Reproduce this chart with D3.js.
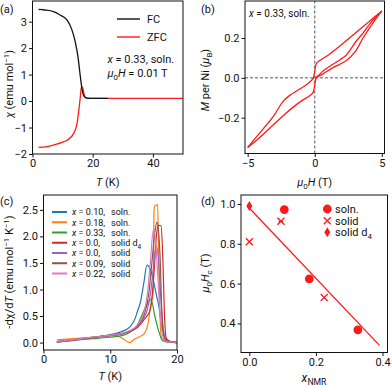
<!DOCTYPE html>
<html><head><meta charset="utf-8">
<script src="https://cdn.jsdelivr.net/npm/d3@7"></script>
<style>
html,body{margin:0;padding:0;background:#fff;}
svg{display:block;font-family:Roboto,"DejaVu Sans",sans-serif;}
</style></head>
<body><svg id="c" width="392" height="385"></svg>
<script>
// ---------- DATA ----------
// (a) susceptibility
const fcT   = [2, 4, 7, 9, 11.5, 13.1, 14.2, 15.1, 15.9, 16.5, 17.2, 18.1, 20, 25];
const fcChi = [3.46, 3.44, 3.38, 3.26, 3.06, 2.69, 2.24, 1.68, 0.92, 0.42, 0.17, 0.11, 0.1, 0.1];
const zfcT   = [2, 5, 8, 10, 11.5, 13.7, 14.8, 15.4, 15.9, 16.2, 16.6, 17.2, 17.8, 20, 30, 50];
const zfcChi = [-1.75, -1.72, -1.63, -1.55, -1.48, -1.22, -0.84, -0.34, 0.17, 0.49, 0.53, 0.23, 0.12, 0.1, 0.1, 0.1];
const aXTicks = [0, 20, 40];
const aYTicks = [-2, -1, 0, 1, 2, 3];

// (b) hysteresis loop
const virginH = [0, 0.1, 0.3, 0.62, 1.2, 1.86, 2.36, 3.0, 3.6, 4.33, 5.0];
const virginM = [0, 0.003, 0.008, 0.02, 0.045, 0.068, 0.087, 0.13, 0.2, 0.275, 0.336];
const downH = [5.0, 4.1, 2.36, 1.12, 0.37, 0.15, 0.07, 0.0, -0.05, -0.13, -0.3, -0.62, -1.1, -1.86, -2.36, -3.1, -4.33, -5.0];
const downM = [0.336, 0.286, 0.187, 0.12, 0.087, 0.074, 0.06, 0.035, 0.015, -0.005, -0.016, -0.035, -0.055, -0.088, -0.118, -0.195, -0.295, -0.35];
const upH = [-5.0, -4.1, -2.36, -1.12, -0.37, -0.15, -0.07, 0.0, 0.05, 0.13, 0.3, 0.62, 1.1, 1.86, 2.36, 3.1, 3.6, 4.33, 5.0];
const upM = [-0.35, -0.3, -0.19, -0.122, -0.09, -0.077, -0.062, -0.035, -0.015, 0.003, 0.013, 0.035, 0.057, 0.09, 0.115, 0.185, 0.225, 0.29, 0.336];
const bXTicks = [-5, 0, 5];
const bYTicks = [-0.2, 0.0, 0.2];

// (c) -dchi/dT
const cNames = ["0.10, soln.", "0.18, soln.", "0.33, soln.", "0.0, solid d4", "0.0, solid", "0.09, solid", "0.22, solid"];
const cColors = ["#1f77b4", "#ff7f0e", "#2ca02c", "#d62728", "#9467bd", "#8c564b", "#e377c2"];
const cT0 = [2, 4, 6, 8, 10, 11, 12, 12.9, 13.75, 14.1, 14.5, 15, 15.5, 16, 16.5, 17, 17.25, 17.75, 18.25, 19, 20];
const cV0 = [0.02, 0.05, 0.08, 0.11, 0.15, 0.18, 0.22, 0.29, 0.46, 0.6, 0.75, 1.1, 1.46, 1.38, 1.15, 0.85, 0.71, 0.28, 0.09, 0.02, 0.01];
const cT1 = [2, 4, 6, 8, 10, 11, 11.8, 12.9, 13.6, 14.4, 15.1, 15.75, 16.0, 16.45, 16.55, 16.65, 17.1, 17.25, 17.45, 17.7, 18.5, 20];
const cV1 = [0.05, 0.07, 0.09, 0.11, 0.13, 0.13, 0.08, 0.0, 0.06, 0.11, 0.17, 0.42, 0.67, 0.95, 2.45, 2.57, 2.6, 1.6, 0.5, 0.08, 0.02, 0.01];
const cT2 = [2, 4, 6, 8, 10, 12, 13, 14, 15, 15.5, 16.1, 16.75, 17.25, 17.8, 18.5, 20];
const cV2 = [0.01, 0.03, 0.06, 0.08, 0.1, 0.14, 0.2, 0.32, 0.59, 0.72, 0.81, 0.46, 0.22, 0.04, 0.01, 0.0];
const cT3 = [2, 4, 6, 8, 10, 12, 13, 14, 15, 15.5, 16, 16.5, 16.9, 17.2, 17.6, 17.9, 18.1, 18.4, 19, 20];
const cV3 = [0.01, 0.04, 0.07, 0.1, 0.13, 0.17, 0.21, 0.28, 0.42, 0.5, 0.62, 1.21, 2.0, 2.21, 2.2, 1.5, 0.6, 0.08, 0.02, 0.0];
const cT4 = [2, 4, 6, 8, 10, 12, 13, 14, 15, 15.5, 16, 16.5, 16.9, 17.2, 17.5, 17.9, 18.3, 19, 20];
const cV4 = [0.01, 0.04, 0.07, 0.1, 0.13, 0.17, 0.22, 0.3, 0.45, 0.6, 0.9, 1.45, 1.82, 1.6, 1.0, 0.3, 0.06, 0.01, 0.0];
const cT5 = [2, 4, 6, 8, 10, 12, 13, 14, 15, 15.75, 16.25, 16.7, 17.0, 17.3, 17.5, 17.75, 18.1, 18.5, 20];
const cV5 = [0.02, 0.05, 0.08, 0.11, 0.14, 0.18, 0.22, 0.3, 0.5, 0.9, 1.52, 2.1, 2.27, 2.0, 1.5, 0.5, 0.1, 0.02, 0.0];
const cT6 = [2, 4, 6, 8, 10, 12, 13, 14, 15, 15.5, 16, 16.45, 16.8, 17.1, 17.5, 17.9, 18.3, 20];
const cV6 = [0.02, 0.05, 0.08, 0.11, 0.14, 0.18, 0.23, 0.32, 0.55, 0.85, 1.5, 2.12, 1.9, 1.3, 0.5, 0.1, 0.02, 0.0];
const cXTicks = [0, 10, 20];
const cYTicks = [0, 0.5, 1.0, 1.5, 2.0, 2.5];

// (d) critical field vs x_NMR
const solnX = [0.105, 0.18, 0.326];
const solnY = [0.972, 0.624, 0.368];
const solnXerr = [0, 0, 0.008];
const solidX = [0.0, 0.095, 0.225];
const solidY = [0.81, 0.913, 0.53];
const solidXerr = [0, 0.007, 0];
const d4X = [0.0];
const d4Y = [0.99];
const d4Xerr = [0.005];
const fitX = [-0.006, 0.391];
const fitY = [0.99, 0.29];
const dXTicks = [0.0, 0.2, 0.4];
const dYTicks = [0.4, 0.6, 0.8, 1.0];

// ---------- DRAWING ----------
const svg = d3.select("#c");
const FS = 11;
const zip = (a, b) => a.map((v, i) => [v, b[i]]);

function rich(g, x, y, segs, opts = {}) {
  const t = g.append("text").attr("x", x).attr("y", y)
    .attr("font-size", opts.size || FS).attr("fill", "#111")
    .attr("text-anchor", opts.anchor || "start");
  if (opts.rotate) t.attr("transform", `rotate(-90,${x},${y})`);
  let shift = 0;
  segs.forEach(s => {
    const sp = t.append("tspan").text(s.t);
    if (s.i) sp.attr("font-style", "italic");
    if (s.x !== undefined) sp.attr("x", s.x);
    let target = 0;
    if (s.sup) target = -4;
    if (s.sub) target = 2.5;
    if (s.sup || s.sub) sp.attr("font-size", (opts.size || FS) * 0.72);
    if (target !== shift) { sp.attr("dy", target - shift); shift = target; }
  });
  return t;
}

function panel(box, xd, yd, xt, yt, xfmt, yfmt) {
  const x = d3.scaleLinear().domain(xd).range([box.l, box.r]);
  const y = d3.scaleLinear().domain(yd).range([box.b, box.t]);
  const g = svg.append("g");
  const ax = g.append("g").attr("transform", `translate(0,${box.b})`)
    .call(d3.axisBottom(x).tickValues(xt).tickFormat(xfmt).tickSize(3.5).tickSizeOuter(0).tickPadding(2));
  const ay = g.append("g").attr("transform", `translate(${box.l},0)`)
    .call(d3.axisLeft(y).tickValues(yt).tickFormat(yfmt).tickSize(3.5).tickSizeOuter(0).tickPadding(2));
  [ax, ay].forEach(a => {
    a.select(".domain").remove();
    a.selectAll("text").attr("font-size", FS).attr("font-family", "Roboto, sans-serif").attr("fill", "#111");
    a.selectAll("line").attr("stroke", "#111");
  });
  const clipId = "clip" + Math.round(box.l) + Math.round(box.t);
  svg.append("clipPath").attr("id", clipId).append("rect")
    .attr("x", box.l).attr("y", box.t).attr("width", box.r - box.l).attr("height", box.b - box.t);
  const plot = svg.append("g").attr("clip-path", `url(#${clipId})`);
  const frame = () => svg.append("rect").attr("x", box.l).attr("y", box.t)
    .attr("width", box.r - box.l).attr("height", box.b - box.t)
    .attr("fill", "none").attr("stroke", "#111").attr("stroke-width", 1);
  return {x, y, g, plot, frame};
}

// ----- (a) -----
{
  const p = panel({l: 32.5, r: 183, t: 1, b: 154}, [0, 50], [-2, 3.78], aXTicks, aYTicks, d3.format("d"), d3.format("d"));
  const line = d3.line().x(d => p.x(d[0])).y(d => p.y(d[1])).curve(d3.curveMonotoneX);
  p.plot.append("path").attr("d", line(zip(zfcT, zfcChi))).attr("fill", "none").attr("stroke", "#ff1a1a").attr("stroke-width", 1.3);
  p.plot.append("path").attr("d", line(zip(fcT, fcChi))).attr("fill", "none").attr("stroke", "#111").attr("stroke-width", 1.3);
  p.frame();
  const lg = svg.append("g");
  [["FC", "#111", 19], ["ZFC", "#ff1a1a", 37]].forEach(([n, c, yy]) => {
    lg.append("line").attr("x1", 117).attr("x2", 140).attr("y1", yy).attr("y2", yy).attr("stroke", c).attr("stroke-width", 1.4);
    lg.append("text").attr("x", 147).attr("y", yy + 4).attr("font-size", FS).attr("fill", "#111").text(n);
  });
  rich(svg, 107.5, 63, [{t: "x", i: true}, {t: " = 0.33, soln."}]);
  rich(svg, 107.5, 77, [{t: "μ", i: true}, {t: "0", sub: true}, {t: "H", i: true}, {t: " = 0.01 T"}]);
  rich(svg, 107.7, 186, [{t: "T", i: true}, {t: " (K)"}], {anchor: "middle"});
  rich(svg, 13, 84, [{t: "χ", i: true}, {t: " (emu mol"}, {t: "−1", sup: true}, {t: ")"}], {anchor: "middle", rotate: true});
  svg.append("text").attr("x", 0).attr("y", 13).attr("font-size", FS).attr("fill", "#111").text("(a)");
}

// ----- (b) -----
{
  const p = panel({l: 245, r: 384.5, t: 1, b: 153.5}, [-5.2, 5.2], [-0.38, 0.386], bXTicks, bYTicks, d3.format("d"), d3.format(".1f"));
  p.plot.append("line").attr("x1", p.x(0)).attr("x2", p.x(0)).attr("y1", p.y(-0.38)).attr("y2", p.y(0.386))
    .attr("stroke", "#555").attr("stroke-dasharray", "3,2").attr("stroke-width", 1);
  p.plot.append("line").attr("x1", p.x(-5.2)).attr("x2", p.x(5.2)).attr("y1", p.y(0)).attr("y2", p.y(0))
    .attr("stroke", "#555").attr("stroke-dasharray", "3,2").attr("stroke-width", 1);
  const line = d3.line().x(d => p.x(d[0])).y(d => p.y(d[1])).curve(d3.curveCatmullRom.alpha(0.5));
  [[virginH, virginM], [downH, downM], [upH, upM]].forEach(([h, m]) => {
    p.plot.append("path").attr("d", line(zip(h, m))).attr("fill", "none").attr("stroke", "#ff1a1a").attr("stroke-width", 1.3);
  });
  p.frame();
  rich(svg, 249, 17, [{t: "x", i: true}, {t: " = 0.33, soln."}], {size: 10});
  rich(svg, 314.7, 186, [{t: "μ", i: true}, {t: "0", sub: true}, {t: "H", i: true}, {t: " (T)"}], {anchor: "middle"});
  rich(svg, 209, 80, [{t: "M", i: true}, {t: " per Ni ("}, {t: "μ", i: true}, {t: "B", sub: true}, {t: ")"}], {anchor: "middle", rotate: true});
  svg.append("text").attr("x", 201).attr("y", 13).attr("font-size", FS).attr("fill", "#111").text("(b)");
}

// ----- (c) -----
{
  const p = panel({l: 43.5, r: 177, t: 195, b: 350}, [0, 20], [-0.14, 2.78], cXTicks, cYTicks, d3.format("d"), d3.format(".1f"));
  const line = d3.line().x(d => p.x(d[0])).y(d => p.y(d[1])).curve(d3.curveMonotoneX);
  const series = [[cT0, cV0], [cT1, cV1], [cT2, cV2], [cT3, cV3], [cT4, cV4], [cT5, cV5], [cT6, cV6]];
  series.forEach(([t, v], i) => {
    p.plot.append("path").attr("d", line(zip(t, v))).attr("fill", "none").attr("stroke", cColors[i]).attr("stroke-width", 1.2);
  });
  p.frame();
  cNames.forEach((n, i) => {
    const yy = 212 + i * 10.25;
    svg.append("line").attr("x1", 52).attr("x2", 67).attr("y1", yy).attr("y2", yy).attr("stroke", cColors[i]).attr("stroke-width", 2);
    const parts = n.split(", ");
    const segs = [{t: "x", i: true}, {t: " = " + parts[0] + ","}];
    if (parts[1] === "solid d4") segs.push({t: "solid d", x: 111}, {t: "4", sub: true});
    else segs.push({t: parts[1], x: 111});
    rich(svg, 72, yy + 3.3, segs, {size: 9});
  });
  rich(svg, 110.2, 380, [{t: "T", i: true}, {t: " (K)"}], {anchor: "middle"});
  rich(svg, 13, 272, [{t: "-dχ/d"}, {t: "T", i: true}, {t: " (emu mol"}, {t: "−1", sup: true}, {t: " K"}, {t: "−1", sup: true}, {t: ")"}], {anchor: "middle", rotate: true});
  svg.append("text").attr("x", 0).attr("y", 205).attr("font-size", FS).attr("fill", "#111").text("(c)");
}

// ----- (d) -----
{
  const p = panel({l: 241, r: 387.5, t: 195, b: 352.5}, [-0.025, 0.415], [0.254, 1.045], dXTicks, dYTicks, d3.format(".1f"), d3.format(".1f"));
  const red = "#ff1a1a";
  p.plot.append("path").attr("d", d3.line().x(d => p.x(d[0])).y(d => p.y(d[1]))(zip(fitX, fitY)))
    .attr("stroke", red).attr("stroke-width", 1.3).attr("fill", "none");
  const errbar = (xs, ys, es) => xs.forEach((xv, i) => {
    if (es[i] > 0) p.plot.append("line").attr("x1", p.x(xv - es[i])).attr("x2", p.x(xv + es[i]))
      .attr("y1", p.y(ys[i])).attr("y2", p.y(ys[i])).attr("stroke", red).attr("stroke-width", 1.3);
  });
  errbar(solnX, solnY, solnXerr); errbar(solidX, solidY, solidXerr); errbar(d4X, d4Y, d4Xerr);
  const circ = (g, cx, cy) => g.append("circle").attr("cx", cx).attr("cy", cy).attr("r", 4.4).attr("fill", red);
  const cross = (g, cx, cy) => g.append("path").attr("d", `M${cx-3.5},${cy-3.5}L${cx+3.5},${cy+3.5}M${cx-3.5},${cy+3.5}L${cx+3.5},${cy-3.5}`)
    .attr("stroke", red).attr("stroke-width", 1.3).attr("fill", "none");
  const diam = (g, cx, cy) => g.append("path").attr("d", `M${cx},${cy-5}L${cx+3},${cy}L${cx},${cy+5}L${cx-3},${cy}Z`).attr("fill", red);
  solnX.forEach((xv, i) => circ(p.plot, p.x(xv), p.y(solnY[i])));
  solidX.forEach((xv, i) => cross(p.plot, p.x(xv), p.y(solidY[i])));
  d4X.forEach((xv, i) => diam(p.plot, p.x(xv), p.y(d4Y[i])));
  p.frame();
  circ(svg, 327.3, 209); cross(svg, 327.3, 220.7); diam(svg, 327.3, 232.3);
  rich(svg, 335, 213, [{t: "soln."}]);
  rich(svg, 335, 224.7, [{t: "solid"}]);
  rich(svg, 335, 236.3, [{t: "solid d"}, {t: "4", sub: true}]);
  rich(svg, 314, 382, [{t: "x", i: true}, {t: "NMR", sub: true}], {anchor: "middle", size: 12});
  rich(svg, 209, 273, [{t: "μ", i: true}, {t: "0", sub: true}, {t: "H", i: true}, {t: "c", sub: true}, {t: " (T)"}], {anchor: "middle", rotate: true});
  svg.append("text").attr("x", 201).attr("y", 205).attr("font-size", FS).attr("fill", "#111").text("(d)");
}
</script></body></html>
